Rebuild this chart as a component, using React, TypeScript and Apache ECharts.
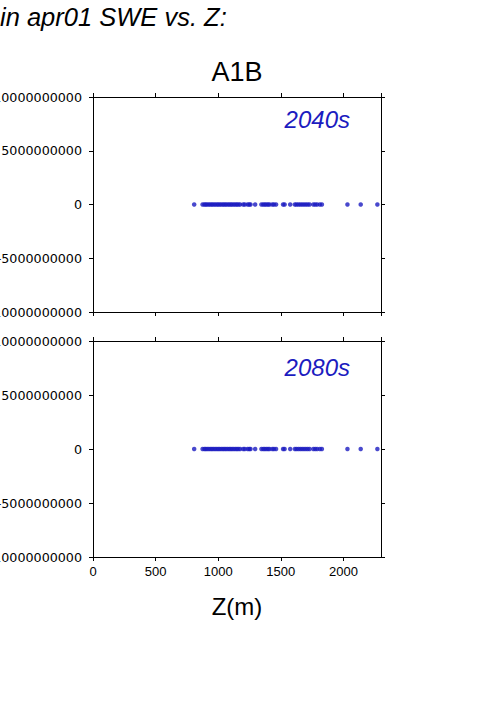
import React, { useEffect, useRef } from "react";
import * as echarts from "echarts";

const mainTitle = "in apr01 SWE vs. Z:";
const scenario = "A1B";
const panelLabels = ["2040s", "2080s"];
const xAxisName = "Z(m)";

const xMin = 0;
const xMax = 2300;
const xInterval = 500;
const yMin = -10000000000;
const yMax = 10000000000;
const yInterval = 5000000000;

// [elevation (m), SWE change]
const points2040: [number, number][] = [
  [808, 0], [875, 0], [890, 0], [900, 0], [912, 0], [925, 0], [938, 0], [950, 0],
  [962, 0], [975, 0], [988, 0], [1000, 0], [1012, 0], [1025, 0], [1038, 0], [1050, 0],
  [1062, 0], [1075, 0], [1088, 0], [1100, 0], [1112, 0], [1125, 0], [1138, 0], [1150, 0],
  [1162, 0], [1175, 0], [1200, 0], [1212, 0], [1235, 0], [1248, 0], [1258, 0], [1295, 0],
  [1345, 0], [1360, 0], [1372, 0], [1385, 0], [1398, 0], [1410, 0], [1432, 0], [1445, 0],
  [1462, 0], [1518, 0], [1530, 0], [1575, 0], [1612, 0], [1625, 0], [1640, 0], [1655, 0],
  [1670, 0], [1685, 0], [1700, 0], [1715, 0], [1730, 0], [1760, 0], [1775, 0], [1790, 0],
  [1812, 0], [1828, 0], [2032, 0], [2138, 0], [2271, 0],
];
const points2080: [number, number][] = [
  [808, 0], [875, 0], [890, 0], [900, 0], [912, 0], [925, 0], [938, 0], [950, 0],
  [962, 0], [975, 0], [988, 0], [1000, 0], [1012, 0], [1025, 0], [1038, 0], [1050, 0],
  [1062, 0], [1075, 0], [1088, 0], [1100, 0], [1112, 0], [1125, 0], [1138, 0], [1150, 0],
  [1162, 0], [1175, 0], [1200, 0], [1212, 0], [1235, 0], [1248, 0], [1258, 0], [1295, 0],
  [1345, 0], [1360, 0], [1372, 0], [1385, 0], [1398, 0], [1410, 0], [1432, 0], [1445, 0],
  [1462, 0], [1518, 0], [1530, 0], [1575, 0], [1612, 0], [1625, 0], [1640, 0], [1655, 0],
  [1670, 0], [1685, 0], [1700, 0], [1715, 0], [1730, 0], [1760, 0], [1775, 0], [1790, 0],
  [1812, 0], [1828, 0], [2032, 0], [2138, 0], [2271, 0],
];

const BLUE = "#1c1cc0";
const SANS = "'Liberation Sans', Arial, Helvetica, sans-serif";

export default function App() {
  const ref = useRef<HTMLDivElement>(null);
  useEffect(() => {
    if (!ref.current) return;
    const chart = echarts.init(ref.current, undefined, { renderer: "svg" });
    const grids = [
      { left: 93, top: 97, width: 288, height: 215, containLabel: false, outerBoundsMode: "none" },
      { left: 93, top: 341, width: 288, height: 216, containLabel: false, outerBoundsMode: "none" },
    ];
    const axisLine = { show: true, onZero: false, lineStyle: { color: "#000", width: 1 } };
    const axisTick = { show: true, inside: false, length: 4, lineStyle: { color: "#000", width: 1 } };
    const xAxes: any[] = [];
    const yAxes: any[] = [];
    grids.forEach((_, i) => {
      xAxes.push({
        type: "value", gridIndex: i, position: "bottom", min: xMin, max: xMax, interval: xInterval,
        axisLine, axisTick, splitLine: { show: false },
        axisLabel: {
          show: i === 1, margin: 8, color: "#000", fontSize: 13, fontFamily: SANS,
          formatter: (v: number) => String(v), showMaxLabel: false,
        },
      });
      xAxes.push({
        type: "value", gridIndex: i, position: "top", min: xMin, max: xMax, interval: xInterval,
        axisLine, axisTick, splitLine: { show: false }, axisLabel: { show: false },
      });
      yAxes.push({
        type: "value", gridIndex: i, position: "left", min: yMin, max: yMax, interval: yInterval,
        axisLine, axisTick, splitLine: { show: false },
        axisLabel: {
          show: true, margin: 11, color: "#000", fontSize: 12.7, fontFamily: "'DejaVu Sans', sans-serif",
          formatter: (v: number) => String(v),
        },
      });
      yAxes.push({
        type: "value", gridIndex: i, position: "right", min: yMin, max: yMax, interval: yInterval,
        axisLine, axisTick, splitLine: { show: false }, axisLabel: { show: false },
      });
    });
    chart.setOption({
      animation: false,
      backgroundColor: "#fff",
      grid: grids,
      xAxis: xAxes,
      yAxis: yAxes,
      series: [
        {
          type: "scatter", xAxisIndex: 0, yAxisIndex: 0, data: points2040,
          symbol: "circle", symbolSize: 4.5, itemStyle: { color: BLUE }, silent: true,
        },
        {
          type: "scatter", xAxisIndex: 2, yAxisIndex: 2, data: points2080,
          symbol: "circle", symbolSize: 4.5, itemStyle: { color: BLUE }, silent: true,
        },
      ],
      graphic: [
        {
          type: "text", left: 0, top: 4,
          style: { text: mainTitle, font: `italic 25.5px ${SANS}`, fill: "#000" },
        },
        {
          type: "text", x: 237, y: 72,
          style: { text: scenario, font: `27px ${SANS}`, fill: "#000", align: "center", verticalAlign: "middle" },
        },
        {
          type: "text", x: 350, y: 119,
          style: { text: panelLabels[0], font: `italic 24px ${SANS}`, fill: BLUE, align: "right", verticalAlign: "middle" },
        },
        {
          type: "text", x: 350, y: 367,
          style: { text: panelLabels[1], font: `italic 24px ${SANS}`, fill: BLUE, align: "right", verticalAlign: "middle" },
        },
        {
          type: "text", x: 237, y: 606,
          style: { text: xAxisName, font: `24px ${SANS}`, fill: "#000", align: "center", verticalAlign: "middle" },
        },
      ],
    });
    return () => chart.dispose();
  }, []);
  return (
    <div
      ref={ref}
      style={{ position: "fixed", left: 0, top: 0, width: 501, height: 709, background: "#fff" }}
    />
  );
}
